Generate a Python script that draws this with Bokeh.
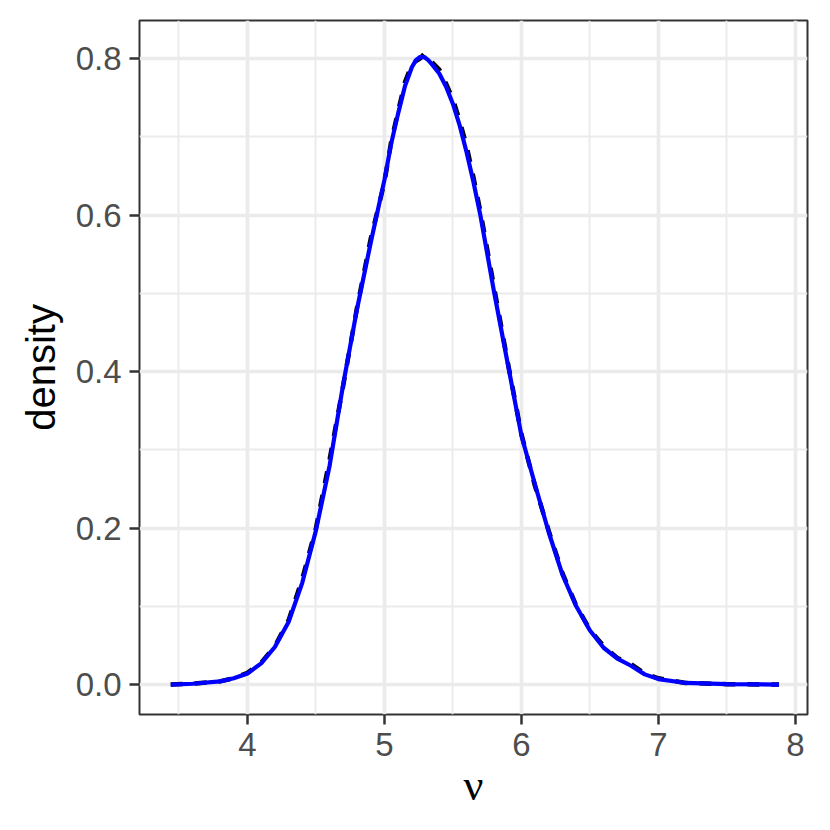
from bokeh.plotting import figure
from bokeh.models import Range1d, FixedTicker
from bokeh.embed import file_html
from bokeh.resources import INLINE

# --- data ---
nu = [3.44, 3.6, 3.8, 3.9, 4.0, 4.1, 4.2, 4.3, 4.4, 4.5, 4.6, 4.7, 4.8, 4.9,
      5.0, 5.05, 5.1, 5.15, 5.2, 5.23, 5.26, 5.29, 5.32, 5.35, 5.4, 5.45, 5.5,
      5.55, 5.6, 5.65, 5.7, 5.8, 5.9, 6.0, 6.1, 6.2, 6.3, 6.4, 6.5, 6.6, 6.7,
      6.8, 6.9, 7.0, 7.2, 7.5, 7.88]
density_blue = [0.000, 0.001, 0.004, 0.008, 0.014, 0.027, 0.048, 0.080, 0.130,
                0.197, 0.280, 0.385, 0.480, 0.565, 0.645, 0.692, 0.730, 0.765,
                0.789, 0.798, 0.802, 0.802, 0.798, 0.792, 0.781, 0.764, 0.742,
                0.714, 0.680, 0.642, 0.600, 0.502, 0.410, 0.318, 0.255, 0.194,
                0.140, 0.100, 0.069, 0.047, 0.033, 0.024, 0.013, 0.007, 0.002,
                0.0005, 0.000]
density_black = [0.000, 0.001, 0.004, 0.008, 0.015, 0.028, 0.049, 0.082, 0.135,
                 0.200, 0.288, 0.383, 0.482, 0.570, 0.642, 0.695, 0.733, 0.770,
                 0.793, 0.797, 0.800, 0.806, 0.800, 0.795, 0.786, 0.768, 0.748,
                 0.720, 0.688, 0.648, 0.605, 0.508, 0.412, 0.320, 0.253, 0.196,
                 0.142, 0.101, 0.070, 0.049, 0.034, 0.026, 0.014, 0.008, 0.002,
                 0.0005, 0.000]
x_ticks = [4, 5, 6, 7, 8]
x_minor = [3.5, 4.5, 5.5, 6.5, 7.5]
y_ticks = [0.0, 0.2, 0.4, 0.6, 0.8]
y_minor = [0.1, 0.3, 0.5, 0.7]
y_tick_labels = {0.0: "0.0", 0.2: "0.2", 0.4: "0.4", 0.6: "0.6", 0.8: "0.8"}

p = figure(width=822, height=822, output_backend="svg", toolbar_location=None,
           x_range=Range1d(3.212, 8.088), y_range=Range1d(-0.0383, 0.8487),
           min_border_left=139, min_border_right=15, min_border_top=20,
           min_border_bottom=108)

p.background_fill_color = "white"
p.border_fill_color = "white"
p.outline_line_color = "#333333"
p.outline_line_width = 2

xt = FixedTicker(ticks=x_ticks, minor_ticks=x_minor)
yt = FixedTicker(ticks=y_ticks, minor_ticks=y_minor)
p.xaxis.ticker = xt
p.yaxis.ticker = yt
p.xgrid.ticker = xt
p.ygrid.ticker = yt
p.yaxis.major_label_overrides = y_tick_labels

for g in (p.xgrid, p.ygrid):
    g.grid_line_color = "#EBEBEB"
    g.grid_line_width = 3.7
    g.minor_grid_line_color = "#EBEBEB"
    g.minor_grid_line_width = 1.9

for ax in (p.xaxis, p.yaxis):
    ax.axis_line_color = None
    ax.major_tick_line_color = "#333333"
    ax.major_tick_line_width = 2.5
    ax.major_tick_out = 10
    ax.major_tick_in = 0
    ax.minor_tick_line_color = None
    ax.major_label_text_font = "Liberation Sans"
    ax.major_label_text_font_size = "33px"
    ax.major_label_text_color = "#4D4D4D"
    ax.major_label_standoff = 8

p.xaxis.axis_label = "ν"
p.xaxis.axis_label_text_font = "Liberation Serif"
p.xaxis.axis_label_text_font_size = "44px"
p.xaxis.axis_label_text_font_style = "normal"
p.xaxis.axis_label_text_color = "black"
p.xaxis.axis_label_standoff = 2

p.yaxis.axis_label = "density"
p.yaxis.axis_label_text_font = "Liberation Sans"
p.yaxis.axis_label_text_font_size = "40px"
p.yaxis.axis_label_text_font_style = "normal"
p.yaxis.axis_label_text_color = "black"
p.yaxis.axis_label_standoff = 10

p.line(nu, density_black, line_color="black", line_width=4.5, line_dash="12 12")
p.line(nu, density_blue, line_color="blue", line_width=4.2)

open("out.html", "w").write(file_html(p, INLINE))
